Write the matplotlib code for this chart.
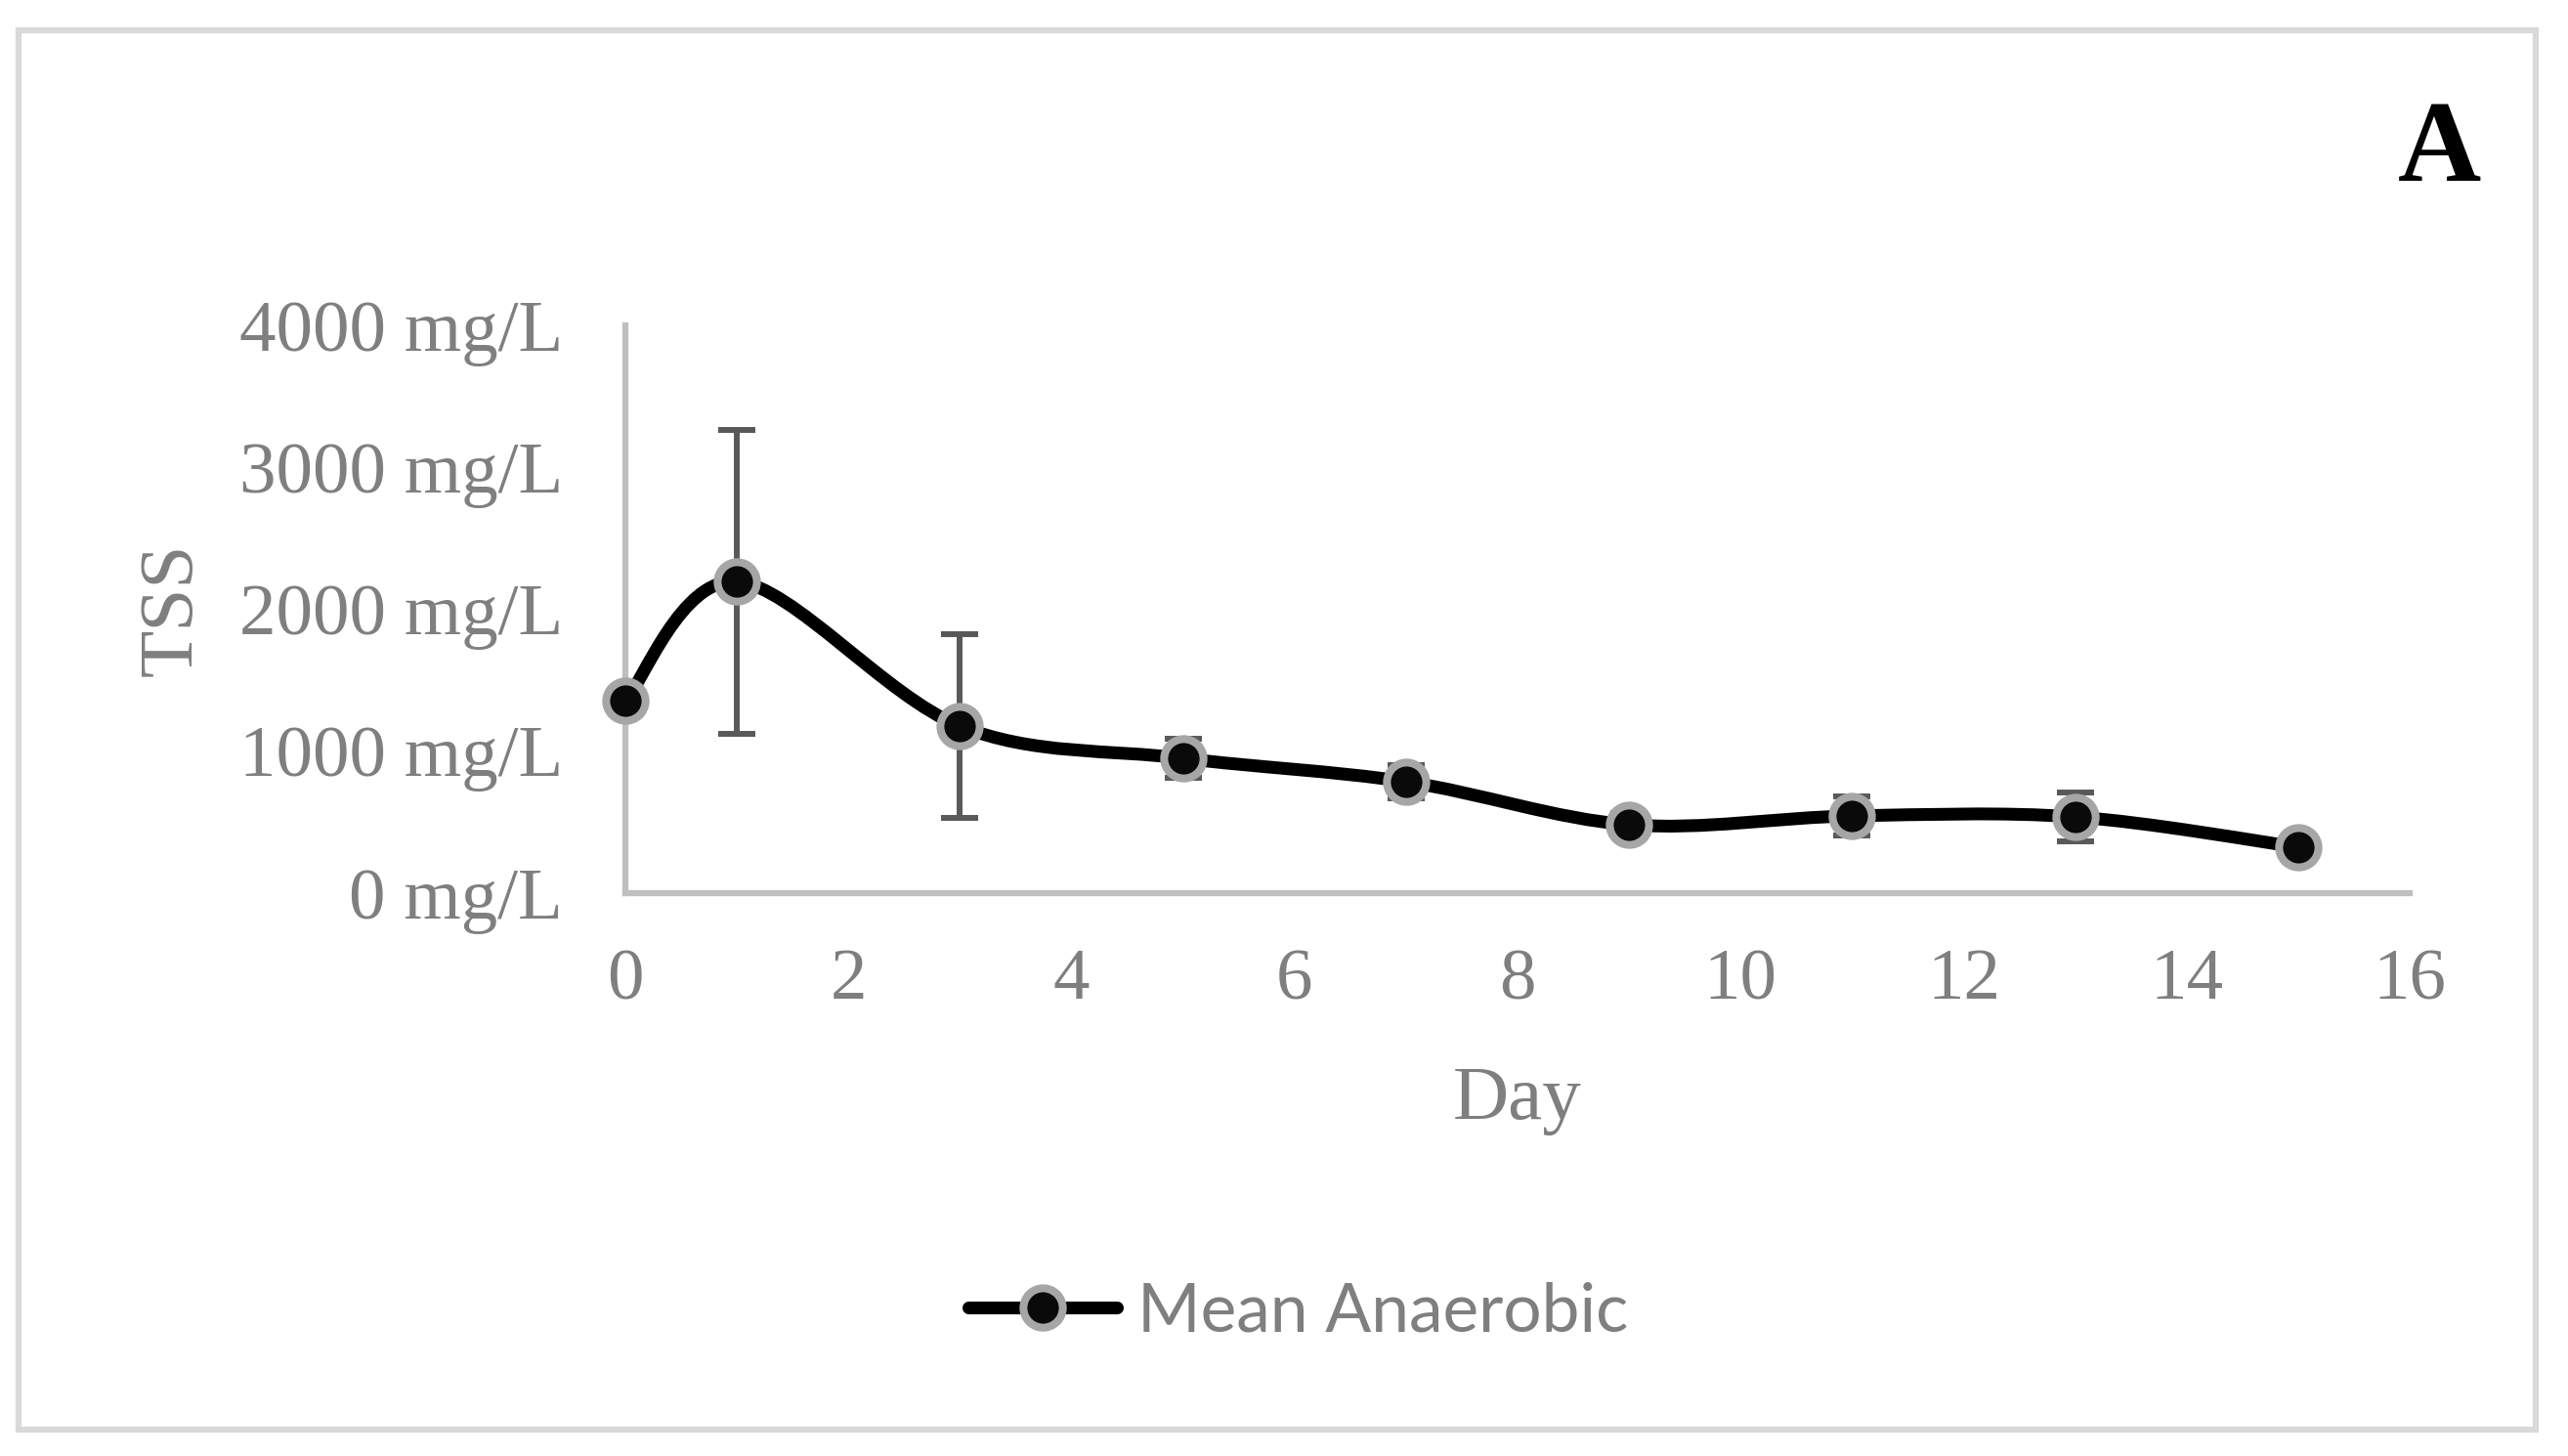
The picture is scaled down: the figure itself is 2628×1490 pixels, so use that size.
import numpy as np
import matplotlib
matplotlib.use('Agg')
import matplotlib.pyplot as plt
from matplotlib.path import Path
from matplotlib.patches import PathPatch, Rectangle
from matplotlib.lines import Line2D

# data
days = [0, 1, 3, 5, 7, 9, 11, 13, 15]
tss_mean = [1355, 2195, 1177, 950, 785, 482, 544, 537, 324]
tss_err = [0, 1070, 645, 138, 120, 80, 138, 172, 55]
series_name = 'Mean Anaerobic'
yticks = [0, 1000, 2000, 3000, 4000]
xticks = [0, 2, 4, 6, 8, 10, 12, 14, 16]

grey_txt = '#7f7f7f'
serif = ['Liberation Serif', 'DejaVu Serif']


def smooth_path(x, y):  # excel-like smoothed line (bezier, tension 1/6)
    pts = np.column_stack([x, y]).astype(float)
    n = len(pts)
    verts = [pts[0]]
    codes = [Path.MOVETO]
    for i in range(n - 1):
        p0 = pts[i - 1] if i > 0 else pts[i]
        p1 = pts[i]
        p2 = pts[i + 1]
        p3 = pts[i + 2] if i + 2 < n else pts[i + 1]
        c1 = p1 + (p2 - p0) / 6.0
        c2 = p2 - (p3 - p1) / 6.0
        verts += [c1, c2, p2]
        codes += [Path.CURVE4] * 3
    return Path(verts, codes)


fig = plt.figure(figsize=(26.28, 14.90), dpi=100)
ax = fig.add_axes([0.2435, 0.3866, 0.6949, 0.3899])

ax.errorbar(days, tss_mean, yerr=tss_err, fmt='none', ecolor='#595959',
            elinewidth=4.3, capsize=13.5, capthick=4.3, zorder=1)
line = PathPatch(smooth_path(days, tss_mean), facecolor='none', edgecolor='black',
                 lw=9.4, capstyle='round', joinstyle='round', zorder=2)
ax.add_patch(line)
ax.plot(days, tss_mean, ls='none', marker='o', ms=29, mfc='#0a0a0a',
        mec='#a6a6a6', mew=5.8, zorder=3, clip_on=False)

ax.set_xlim(0, 16)
ax.set_ylim(0, 4000)
ax.set_xticks(xticks)
ax.set_yticks(yticks)
ax.set_yticklabels([str(v) + ' mg/L' for v in yticks])
ax.tick_params(length=0, labelsize=54, labelcolor=grey_txt)
ax.tick_params(axis='y', pad=46)
ax.tick_params(axis='x', pad=41)
for lab in ax.get_xticklabels() + ax.get_yticklabels():
    lab.set_family(serif)

for s in ['top', 'right']:
    ax.spines[s].set_visible(False)
for s in ['left', 'bottom']:
    ax.spines[s].set_color('#bfbfbf')
    ax.spines[s].set_linewidth(4.5)

ax.set_ylabel('TSS', fontsize=57, color=grey_txt, family=serif, va='center')
ax.yaxis.set_label_coords(-0.2536, 0.5)
ax.set_xlabel('Day', fontsize=57, color=grey_txt, family=serif, va='center')
ax.xaxis.set_label_coords(0.5, -0.365)

# legend
handle = Line2D([0], [0], color='black', lw=9.4, solid_capstyle='round', marker='o',
                ms=29, mfc='#0a0a0a', mec='#a6a6a6', mew=5.8)
leg = fig.legend([handle], [series_name], loc='center', bbox_to_anchor=(0.5055, 0.0987),
                 frameon=False, handlelength=2.2, handletextpad=0.3,
                 prop={'family': ['Lato', 'DejaVu Sans'], 'size': 50})
for t in leg.get_texts():
    t.set_color(grey_txt)

fig.text(0.950, 0.8758, 'A', fontsize=85, fontweight='bold', family=serif,
         ha='center', va='baseline')

fig.patches.append(Rectangle((0.0072, 0.0181), 0.9804, 0.9611, transform=fig.transFigure,
                             fill=False, edgecolor='#d9d9d9', lw=4.5))

fig.savefig('out.png', dpi=100, facecolor='white')
